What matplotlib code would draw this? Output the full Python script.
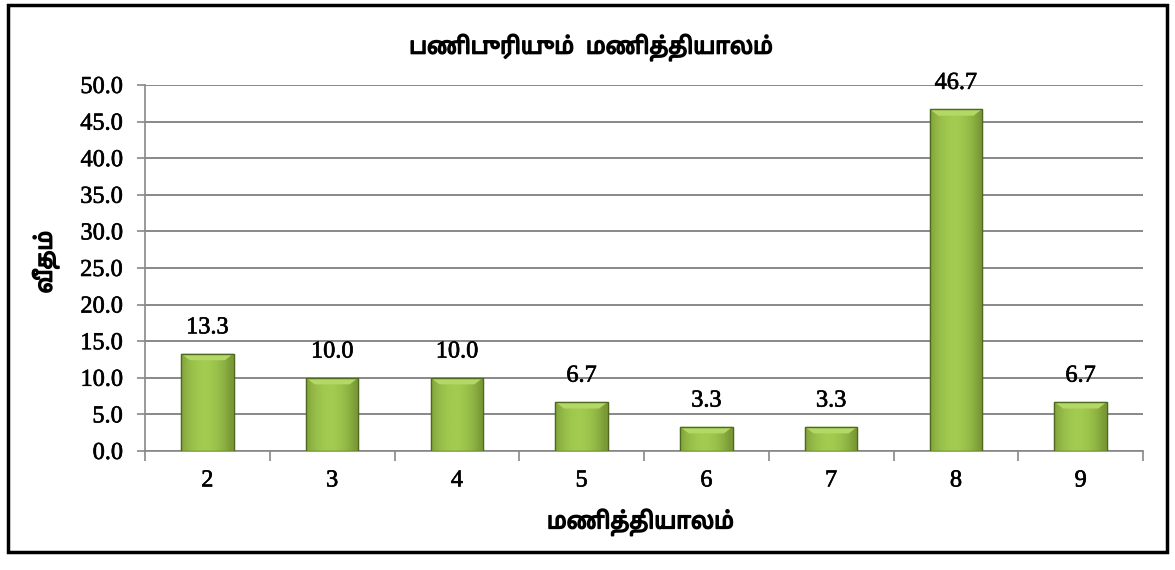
import matplotlib
matplotlib.use("Agg")
import matplotlib.pyplot as plt
import numpy as np
from matplotlib.patches import Rectangle, Polygon
from matplotlib.colors import LinearSegmentedColormap
import matplotlib.patheffects as pe

categories = ["2", "3", "4", "5", "6", "7", "8", "9"]
values = [13.3, 10.0, 10.0, 6.7, 3.3, 3.3, 46.7, 6.7]
yticks = [0, 5, 10, 15, 20, 25, 30, 35, 40, 45, 50]
title = "பணிபுரியும்  மணித்தியாலம்"
xlabel = "மணித்தியாலம்"
ylabel = "வீதம்"

tamil_fonts = ["Noto Sans Tamil", "Noto Sans", "DejaVu Sans"]
serif = ["Liberation Serif", "DejaVu Serif"]
bold_fx = [pe.withStroke(linewidth=1.1, foreground="black")]
num_fx = [pe.withStroke(linewidth=0.45, foreground="black")]

fig = plt.figure(figsize=(11.75, 5.7), dpi=100)
ax = fig.add_axes([0.1234, 0.2088, 0.8494, 0.6421])

x = np.arange(len(categories))
w = 0.42
bars = ax.bar(x, values, width=w, color="#98C046", edgecolor="#4F6A20", linewidth=0.8, zorder=3)

grad = np.linspace(0, 1, 64)
prof = 1 - 0.35 * (np.abs(grad - 0.45) * 2) ** 2
cmap = LinearSegmentedColormap.from_list("g", ["#7A9A36", "#A2CB50"])
for b in bars:
    bx, by = b.get_x(), b.get_y()
    bw, bh = b.get_width(), b.get_height()
    img = np.tile(prof, (2, 1))
    im = ax.imshow(img, extent=[bx, bx + bw, by, by + bh], aspect="auto", cmap=cmap,
                   vmin=0.65, vmax=1, zorder=3.5, origin="lower", interpolation="bilinear")
    im.set_clip_path(b)
    bev = 0.9
    tri = Polygon([[bx, by + bh], [bx + bw, by + bh], [bx + bw - 0.07, by + bh - bev],
                   [bx + 0.07, by + bh - bev]], closed=True, facecolor="#B3D865",
                   edgecolor="none", zorder=3.6)
    ax.add_patch(tri)
    ax.add_patch(Rectangle((bx, by), bw, bh, fill=False, edgecolor="#4F6A20", linewidth=1.0, zorder=3.7))

for xi, v in zip(x, values):
    ax.annotate(f"{v:.1f}", (xi, v), xytext=(0, 11), textcoords="offset points",
                ha="center", va="bottom", fontsize=17.5, family=serif, color="black",
                path_effects=num_fx)

ax.set_xlim(-0.5, len(categories) - 0.5)
ax.set_ylim(0, 50)
ax.set_yticks(yticks)
ax.set_yticklabels([f"{t:.1f}" for t in yticks], family=serif, fontsize=17.5)
ax.set_xticks(x)
ax.set_xticklabels(categories, family=serif, fontsize=17.5)
for lbl in ax.get_xticklabels() + ax.get_yticklabels():
    lbl.set_path_effects(num_fx)
ax.set_xticks(np.arange(-0.5, len(categories)), minor=True)
ax.tick_params(axis="x", which="major", length=0, pad=14)
ax.tick_params(axis="x", which="minor", length=7, color="#888888", width=1.2)
ax.tick_params(axis="y", which="major", length=6, color="#888888", width=1.2, pad=10)
ax.yaxis.grid(True, color="#888888", linewidth=1.4, zorder=0)
ax.set_axisbelow(True)
for s in ["top", "right"]:
    ax.spines[s].set_visible(False)
ax.spines["left"].set_color("#888888")
ax.spines["left"].set_linewidth(1.2)
ax.spines["bottom"].set_color("#888888")
ax.spines["bottom"].set_linewidth(1.2)

fig.text(0.503, 0.916, title, ha="center", va="center", fontsize=16.5, fontweight="bold",
         family=tamil_fonts, path_effects=bold_fx)
fig.text(0.545, 0.083, xlabel, ha="center", va="center", fontsize=16.5, fontweight="bold",
         family=tamil_fonts, path_effects=bold_fx)
fig.text(0.039, 0.54, ylabel, ha="center", va="center", fontsize=16.5, fontweight="bold",
         rotation=90, family=tamil_fonts, path_effects=bold_fx)

fig.patches.append(Rectangle((0.0068, 0.032), 0.9864, 0.959, transform=fig.transFigure,
                             fill=False, edgecolor="black", linewidth=2.5))

fig.savefig("out.png", dpi=100)
